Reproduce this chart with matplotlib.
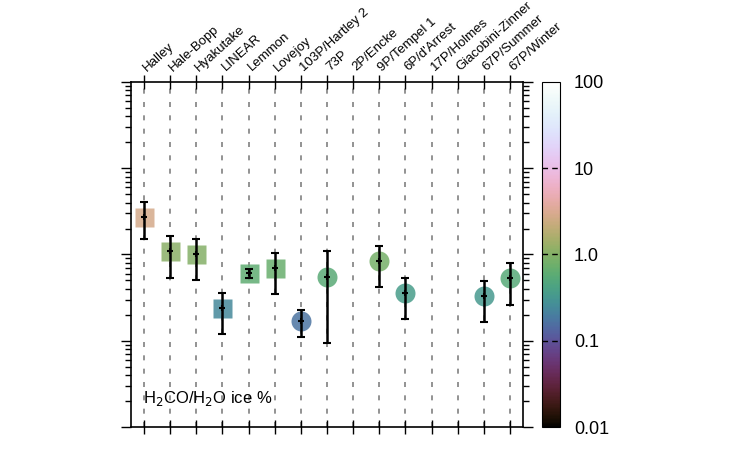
import numpy as np
import matplotlib
matplotlib.use("Agg")
import matplotlib.pyplot as plt
import matplotlib.transforms as mtransforms
from matplotlib.colors import LogNorm, ListedColormap

plt.rcParams['font.family'] = ['Liberation Sans', 'DejaVu Sans']

comets = ["Halley", "Hale-Bopp", "Hyakutake", "LINEAR", "Lemmon", "Lovejoy",
          "103P/Hartley 2", "73P", "2P/Encke", "9P/Tempel 1", "6P/d'Arrest",
          "17P/Holmes", "Giacobini-Zinner", "67P/Summer", "67P/Winter"]
# H2CO/H2O ice % (nan = no measurement)
ratio = [2.74, 1.10, 1.00, 0.24, 0.615, 0.70, 0.168, 0.55, np.nan, 0.84, 0.36,
         np.nan, np.nan, 0.33, 0.53]
err_hi = [4.03, 1.65, 1.50, 0.36, 0.685, 1.05, 0.229, 1.10, np.nan, 1.25, 0.54,
          np.nan, np.nan, 0.49, 0.80]
err_lo = [1.50, 0.54, 0.50, 0.119, 0.54, 0.345, 0.11, 0.094, np.nan, 0.417, 0.18,
          np.nan, np.nan, 0.164, 0.26]
# square for the first six comets, circle for the rest
shape = ["s"] * 6 + ["o"] * 9

ratio = np.array(ratio)
err_hi = np.array(err_hi)
err_lo = np.array(err_lo)
x = np.arange(len(comets))


def helix(n, start, rot, hue=1.0, gamma=1.0):
    # cubehelix (Green 2011) with custom start / rotation
    f = np.linspace(0, 1, n) ** gamma
    amp = hue * f * (1 - f) / 2
    phi = 2 * np.pi * (start / 3 + rot * np.linspace(0, 1, n))
    r = f + amp * (-0.14861 * np.cos(phi) + 1.78277 * np.sin(phi))
    g = f + amp * (-0.29227 * np.cos(phi) - 0.90649 * np.sin(phi))
    b = f + amp * (1.97294 * np.cos(phi))
    return ListedColormap(np.clip(np.column_stack([r, g, b]), 0, 1))


cmap = helix(256, 1.3, -1.7, hue=1.0, gamma=0.72)
norm = LogNorm(vmin=0.01, vmax=100)

fig = plt.figure(figsize=(7.5, 4.5), dpi=100)
ax = fig.add_axes([0.1747, 0.0511, 0.5227, 0.7667])
cax = fig.add_axes([0.7227, 0.0511, 0.024, 0.7667])

for xi in x:
    ax.axvline(xi, color="gray", ls=(0, (3, 5)), lw=1.2, zorder=0)

for i in x:
    if np.isnan(ratio[i]):
        continue
    ms = 19 if shape[i] == "s" else 20
    ax.plot(i, ratio[i], marker=shape[i], ms=ms * 0.72, color=cmap(norm(ratio[i])),
            alpha=0.85, mec="none", zorder=2)
    ax.errorbar(i, ratio[i], yerr=[[ratio[i] - err_lo[i]], [err_hi[i] - ratio[i]]],
                fmt="+", color="black", ms=5, mew=1.5, elinewidth=1.8,
                capsize=3, capthick=1.8, zorder=3)

ax.set_yscale("log")
ax.set_ylim(0.01, 100)
ax.set_xlim(-0.5, len(comets) - 0.5)
ax.set_xticks(x)
ax.set_xticklabels(comets, rotation=42, ha="left", rotation_mode="anchor", fontsize=9.5)
ax.tick_params(axis="x", top=True, bottom=True, labeltop=True, labelbottom=False,
               direction="inout", length=10, width=1, pad=1)
shift = mtransforms.ScaledTranslation(5 / 100, 0, fig.dpi_scale_trans)
for t in ax.xaxis.get_major_ticks():
    t.label2.set_transform(t.label2.get_transform() + shift)
ax.tick_params(axis="y", which="both", left=True, right=True, labelleft=False,
               direction="out", width=1)
ax.tick_params(axis="y", which="major", length=7)
ax.tick_params(axis="y", which="minor", length=4)
for s in ax.spines.values():
    s.set_linewidth(1.2)

ax.text(0.03, 0.055, "H$_2$CO/H$_2$O ice %", transform=ax.transAxes, fontsize=12,
        va="bottom", ha="left")

sm = plt.cm.ScalarMappable(norm=norm, cmap=cmap)
cb = fig.colorbar(sm, cax=cax)
cb.set_ticks([0.01, 0.1, 1, 10, 100])
cb.set_ticklabels(["0.01", "0.1", "1.0", "10", "100"])
cb.ax.tick_params(which="both", length=0, labelsize=13, pad=10)
cb.ax.minorticks_off()
for v in [0.1, 1, 10]:
    cax.axhline(v, color="black", ls=(0, (4, 3)), lw=1)

fig.savefig("out.png", dpi=100)
